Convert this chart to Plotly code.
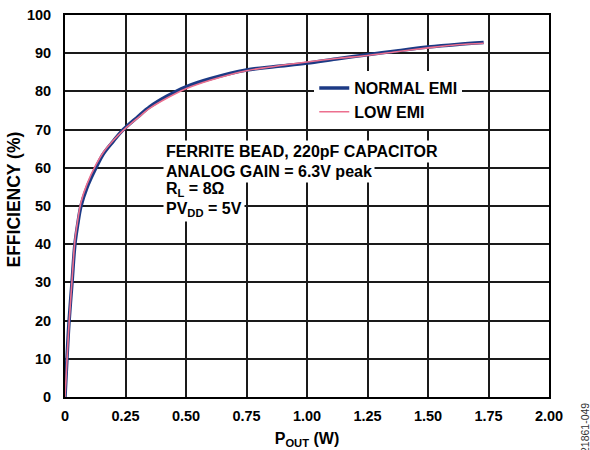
import plotly.graph_objects as go

# ---- data ----
pout_normal = [0, 0.004, 0.008, 0.017, 0.029, 0.041, 0.052, 0.066, 0.09, 0.128, 0.16, 0.2, 0.241,
               0.3, 0.351, 0.42, 0.5, 0.6, 0.75, 0.87, 1.0, 1.12, 1.25, 1.37, 1.5, 1.62, 1.73]
eff_normal = [0, 5, 10, 20, 30, 40, 45, 50, 54.7, 60, 63.8, 67, 70,
              73.3, 76, 78.7, 81.2, 83.3, 85.6, 86.5, 87.4, 88.5, 89.6, 90.6, 91.6, 92.3, 92.8]

pout_low = [0, 0.004, 0.008, 0.017, 0.029, 0.041, 0.052, 0.066, 0.09, 0.128, 0.16, 0.2, 0.241,
            0.3, 0.351, 0.42, 0.5, 0.6, 0.75, 0.87, 1.0, 1.12, 1.25, 1.37, 1.5, 1.62, 1.73]
eff_low = [0, 4.5, 9.5, 19.5, 30.5, 41, 46, 51, 55.6, 60.8, 64.2, 67.2, 69.8,
           73, 75.6, 78.2, 80.7, 82.9, 85.4, 86.6, 87.7, 88.6, 89.4, 90.4, 91.4, 92.2, 92.6]

x_ticks = [0, 0.25, 0.5, 0.75, 1.0, 1.25, 1.5, 1.75, 2.0]
x_tick_labels = ["0", "0.25", "0.50", "0.75", "1.00", "1.25", "1.50", "1.75", "2.00"]
y_ticks = [0, 10, 20, 30, 40, 50, 60, 70, 80, 90, 100]

notes = ["FERRITE BEAD, 220pF CAPACITOR",
         "ANALOG GAIN = 6.3V peak",
         "R<sub>L</sub> = 8Ω",
         "PV<sub>DD</sub> = 5V"]
note_y = [64.2, 59.0, 54.2, 49.2]

FONT = "Arial, 'Liberation Sans', sans-serif"

fig = go.Figure()
fig.add_trace(go.Scatter(x=pout_normal, y=eff_normal, mode="lines", name="NORMAL EMI",
                         line=dict(color="#1c3a85", width=3.5, shape="spline")))
fig.add_trace(go.Scatter(x=pout_low, y=eff_low, mode="lines", name="LOW EMI",
                         line=dict(color="#ec6f8e", width=1.6, shape="spline")))

for txt, yy in zip(notes, note_y):
    fig.add_annotation(x=0.405, y=yy, xref="x", yref="y", text=txt, showarrow=False,
                       xanchor="left", yanchor="middle", bgcolor="white", borderpad=2,
                       font=dict(family=FONT, size=16, color="black", weight="bold"))

# y-axis title as a rotated annotation (placed to match the reference)
fig.add_annotation(x=-0.1074, y=0.517, xref="paper", yref="paper", text="EFFICIENCY (%)",
                   showarrow=False, textangle=-90, xanchor="center", yanchor="middle",
                   font=dict(family=FONT, size=17.5, color="black", weight="bold"))

fig.add_annotation(x=1.0733, y=-0.08, xref="paper", yref="paper", text="21861-049",
                   showarrow=False, textangle=-90, xanchor="center", yanchor="middle",
                   font=dict(family=FONT, size=10.5, color="#333333"))

axis_common = dict(showgrid=True, gridcolor="#1a1a1a", gridwidth=1.5, showline=True,
                   linecolor="black", linewidth=2, mirror=True, ticks="", zeroline=False,
                   automargin=False,
                   tickfont=dict(family=FONT, size=14.5, color="black", weight="bold"))

fig.update_layout(
    width=590, height=450, autosize=False,
    margin=dict(l=65, r=41, t=15, b=53),
    plot_bgcolor="white", paper_bgcolor="white",
    xaxis=dict(range=[0, 2], tickvals=x_ticks, ticktext=x_tick_labels, ticklabelstandoff=5,
               title=dict(text="P<sub>OUT</sub> (W)", standoff=9,
                          font=dict(family=FONT, size=16, color="black", weight="bold")),
               **axis_common),
    yaxis=dict(range=[0, 100], tickvals=y_ticks, ticklabelstandoff=9, **axis_common),
    legend=dict(x=0.515, y=0.8534, xanchor="left", yanchor="top", bgcolor="white",
                borderwidth=0, itemwidth=30, tracegroupgap=0,
                font=dict(family=FONT, size=16, color="black", weight="bold")),
    showlegend=True,
)

fig.write_html("out.html", config={"displayModeBar": False},
               post_script="document.body.style.margin='0';")
